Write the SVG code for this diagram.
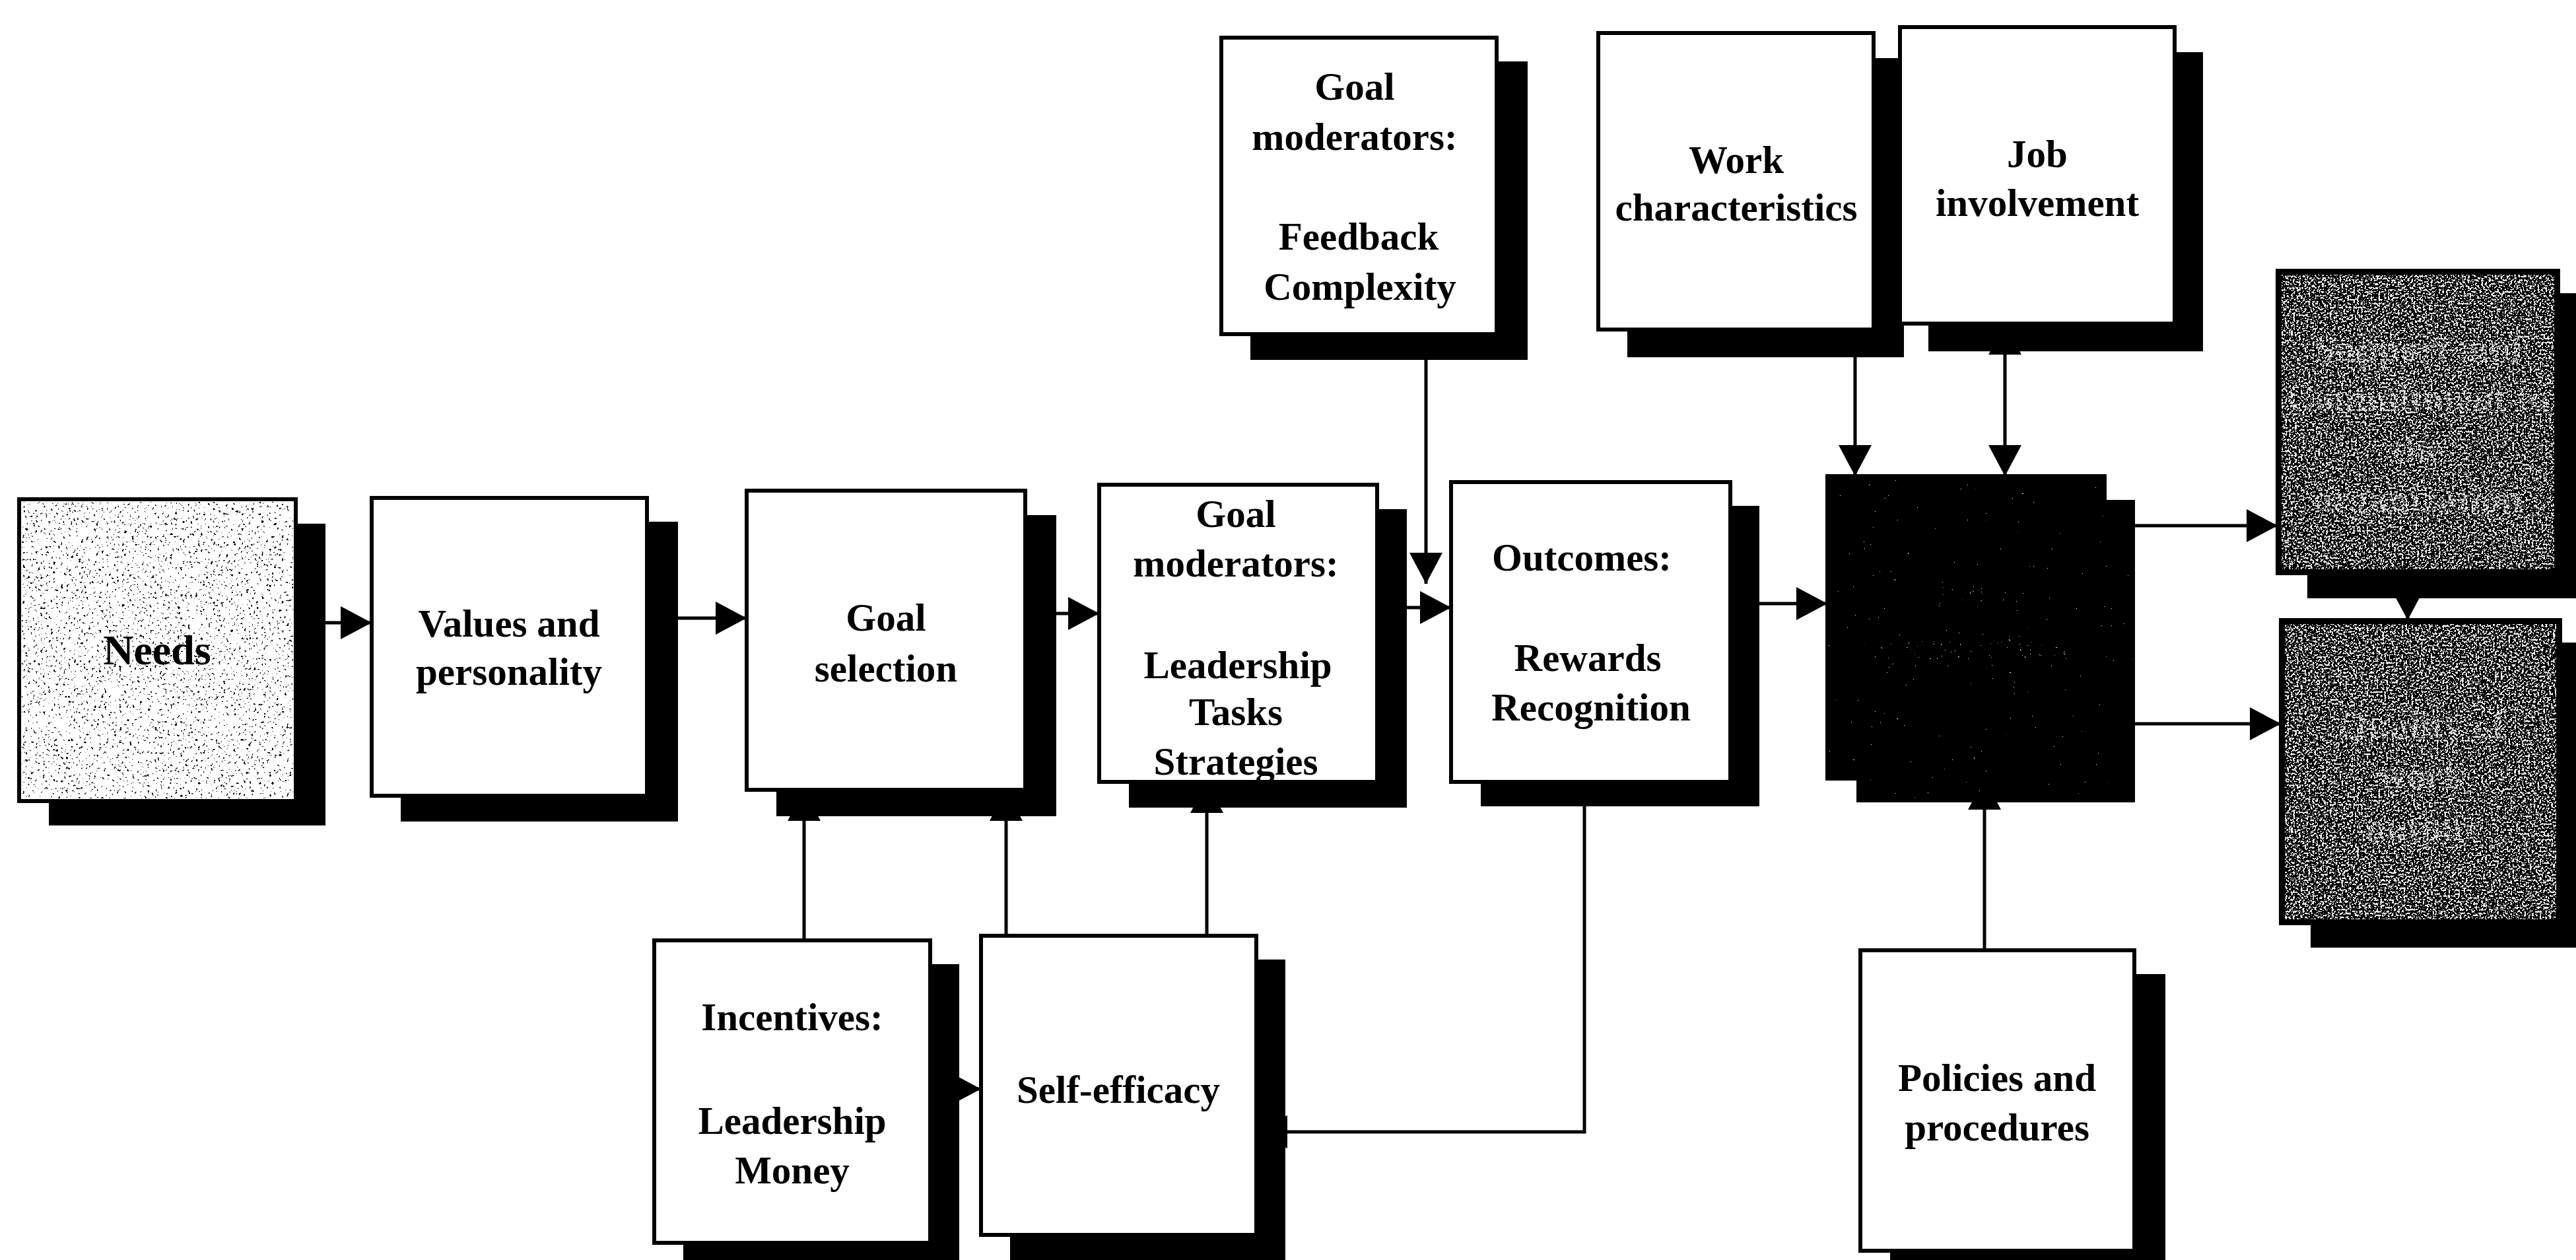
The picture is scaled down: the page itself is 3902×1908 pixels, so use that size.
<svg xmlns="http://www.w3.org/2000/svg" width="3902" height="1908" viewBox="0 0 3902 1908">
  <style>
    .box { fill: #fff; stroke: #000; stroke-width: 6; }
    .shadow { fill: #000; }
    .dark { fill: #000; stroke: #000; stroke-width: 6; }
    .lbl { font-family: 'Liberation Serif', 'Times New Roman', serif; font-size: 59px; font-weight: 700; text-anchor: middle; fill: #000; }
    .lbl-dark { font-family: 'Liberation Serif', 'Times New Roman', serif; font-size: 59px; font-weight: 700; text-anchor: middle; fill: #ddd; }
    .conn { stroke: #000; stroke-width: 5; fill: none; }
  </style>
  <defs>
    <marker id="ah" viewBox="0 0 47 50" refX="47" refY="25" markerWidth="47" markerHeight="50" markerUnits="userSpaceOnUse" orient="auto-start-reverse">
      <path d="M0,0 L47,25 L0,50 z" fill="#000"/>
    </marker>
    <!-- black grain on a light ground -->
    <filter id="grainBlack" x="0" y="0" width="1" height="1" color-interpolation-filters="sRGB">
      <feTurbulence type="fractalNoise" baseFrequency="0.26" numOctaves="2" seed="7"/>
      <feColorMatrix type="matrix" values="0 0 0 0 0  0 0 0 0 0  0 0 0 0 0  30 0 0 0 -20"/>
    </filter>
    <!-- dense white grain on a dark ground -->
    <filter id="grainWhite" x="0" y="0" width="1" height="1" color-interpolation-filters="sRGB">
      <feTurbulence type="fractalNoise" baseFrequency="0.34" numOctaves="2" seed="11"/>
      <feColorMatrix type="matrix" values="0 0 0 0 1  0 0 0 0 1  0 0 0 0 1  30 0 0 0 -16.2"/>
    </filter>
    <!-- very sparse white dots -->
    <filter id="grainSparse" x="0" y="0" width="1" height="1" color-interpolation-filters="sRGB">
      <feTurbulence type="fractalNoise" baseFrequency="0.3" numOctaves="2" seed="5"/>
      <feColorMatrix type="matrix" values="0 0 0 0 1  0 0 0 0 1  0 0 0 0 1  80 0 0 0 -67"/>
    </filter>
    <!-- breaks lettering up into broken specks -->
    <filter id="brokenText" x="-0.05" y="-0.2" width="1.1" height="1.4" color-interpolation-filters="sRGB">
      <feTurbulence type="fractalNoise" baseFrequency="0.3" numOctaves="2" seed="3" result="n"/>
      <feColorMatrix in="n" type="matrix" values="0 0 0 0 0  0 0 0 0 0  0 0 0 0 0  30 0 0 0 -15.8" result="m"/>
      <feComposite in="SourceGraphic" in2="m" operator="in"/>
    </filter>
    <filter id="fadedText" x="-0.05" y="-0.2" width="1.1" height="1.4" color-interpolation-filters="sRGB">
      <feTurbulence type="fractalNoise" baseFrequency="0.35" numOctaves="2" seed="9" result="n"/>
      <feColorMatrix in="n" type="matrix" values="0 0 0 0 0  0 0 0 0 0  0 0 0 0 0  60 0 0 0 -45" result="m"/>
      <feComposite in="SourceGraphic" in2="m" operator="in"/>
    </filter>
  </defs>

  <rect width="3902" height="1908" fill="#fff"/>

  <!-- connectors (drawn first so box shadows sit over hidden arrow ends) -->
  <g id="connectors">
    <path class="conn" d="M492,943 H563" marker-end="url(#ah)"/>
    <path class="conn" d="M1027,936 H1131" marker-end="url(#ah)"/>
    <path class="conn" d="M1600,929 H1665" marker-end="url(#ah)"/>
    <path class="conn" d="M2131,920 H2198" marker-end="url(#ah)"/>
    <path class="conn" d="M2160,545 V884" marker-end="url(#ah)"/>
    <path class="conn" d="M2665,914 H2768" marker-end="url(#ah)"/>
    <path class="conn" d="M2810,541 V721" marker-end="url(#ah)"/>
    <path class="conn" d="M3037,490 V721" marker-start="url(#ah)" marker-end="url(#ah)"/>
    <path class="conn" d="M3006,1439 V1179" marker-end="url(#ah)"/>
    <path class="conn" d="M3234,796 H3450" marker-end="url(#ah)"/>
    <path class="conn" d="M3234,1096 H3455" marker-end="url(#ah)"/>
    <path class="conn" d="M3647,880 V939" marker-end="url(#ah)"/>
    <path class="conn" d="M1218,1424 V1196" marker-end="url(#ah)"/>
    <path class="conn" d="M1524,1417 V1196" marker-end="url(#ah)"/>
    <path class="conn" d="M1828,1417 V1184" marker-end="url(#ah)"/>
    <path class="conn" d="M1409,1649 H1486" marker-end="url(#ah)"/>
    <path class="conn" d="M2400,1221 V1714 H1903" marker-end="url(#ah)"/>
  </g>

  <g id="needs">
    <rect class="shadow" x="74" y="793" width="419" height="457"/>
    <rect class="box" x="29" y="756" width="419" height="457"/>
    <rect x="33" y="760" width="411" height="449" filter="url(#grainBlack)"/>
    <text class="lbl" x="238" y="1006" style="font-size:64px">Needs</text>
  </g>

  <g id="values-personality">
    <rect class="shadow" x="607" y="790" width="420" height="454"/>
    <rect class="box" x="563" y="754" width="417" height="451"/>
    <text class="lbl" x="771" y="964">Values and</text>
    <text class="lbl" x="771" y="1037">personality</text>
  </g>

  <g id="goal-selection">
    <rect class="shadow" x="1176" y="780" width="424" height="456"/>
    <rect class="box" x="1131" y="743" width="422" height="453"/>
    <text class="lbl" x="1342" y="955">Goal</text>
    <text class="lbl" x="1342" y="1032">selection</text>
  </g>

  <g id="goal-moderators-leadership">
    <rect class="shadow" x="1710" y="771" width="421" height="452"/>
    <rect class="box" x="1665" y="734" width="421" height="450"/>
    <text class="lbl" x="1872" y="798">Goal</text>
    <text class="lbl" x="1872" y="873">moderators:</text>
    <text class="lbl" x="1875" y="1027">Leadership</text>
    <text class="lbl" x="1872" y="1098">Tasks</text>
    <text class="lbl" x="1872" y="1173">Strategies</text>
  </g>

  <g id="outcomes">
    <rect class="shadow" x="2243" y="766" width="422" height="455"/>
    <rect class="box" x="2198" y="730" width="423" height="454"/>
    <text class="lbl" x="2396" y="864">Outcomes:</text>
    <text class="lbl" x="2405" y="1016">Rewards</text>
    <text class="lbl" x="2410" y="1091">Recognition</text>
  </g>

  <g id="job-satisfaction">
    <rect class="shadow" x="2812" y="757" width="422" height="458"/>
    <rect class="dark" x="2768" y="721" width="420" height="458"/>
    <rect x="2768" y="721" width="466" height="494" filter="url(#grainSparse)"/>
    <g filter="url(#fadedText)">
      <text class="lbl-dark" x="2966" y="918">Job</text>
      <text class="lbl-dark" x="2990" y="998">satisfaction</text>
    </g>
  </g>

  <g id="goal-moderators-feedback">
    <rect class="shadow" x="1894" y="93" width="420" height="452"/>
    <rect class="box" x="1850" y="57" width="417" height="449"/>
    <text class="lbl" x="2052" y="151">Goal</text>
    <text class="lbl" x="2052" y="227">moderators:</text>
    <text class="lbl" x="2058" y="378">Feedback</text>
    <text class="lbl" x="2060" y="454">Complexity</text>
  </g>

  <g id="work-characteristics">
    <rect class="shadow" x="2465" y="88" width="419" height="453"/>
    <rect class="box" x="2421" y="50" width="417" height="449"/>
    <text class="lbl" x="2630" y="262">Work</text>
    <text class="lbl" x="2630" y="334">characteristics</text>
  </g>

  <g id="job-involvement">
    <rect class="shadow" x="2921" y="79" width="416" height="453"/>
    <rect class="box" x="2878" y="41" width="416" height="449"/>
    <text class="lbl" x="3086" y="253">Job</text>
    <text class="lbl" x="3086" y="327">involvement</text>
  </g>

  <g id="incentives">
    <rect class="shadow" x="1035" y="1460" width="418" height="458"/>
    <rect class="box" x="991" y="1424" width="418" height="458"/>
    <text class="lbl" x="1200" y="1560">Incentives:</text>
    <text class="lbl" x="1200" y="1717">Leadership</text>
    <text class="lbl" x="1200" y="1792">Money</text>
  </g>

  <g id="self-efficacy">
    <rect class="shadow" x="1530" y="1453" width="417" height="460"/>
    <rect class="box" x="1486" y="1417" width="417" height="453"/>
    <text class="lbl" x="1694" y="1670">Self-efficacy</text>
  </g>

  <g id="policies-procedures">
    <rect class="shadow" x="2863" y="1475" width="417" height="460"/>
    <rect class="box" x="2818" y="1439" width="415" height="455"/>
    <text class="lbl" x="3025" y="1652">Policies and</text>
    <text class="lbl" x="3025" y="1727">procedures</text>
  </g>

  <g id="support-commitment">
    <rect class="shadow" x="3495" y="444" width="410" height="462"/>
    <rect class="dark" x="3450" y="410" width="425" height="458"/>
    <rect x="3456" y="416" width="413" height="446" filter="url(#grainWhite)"/>
    <g filter="url(#brokenText)">
      <text class="lbl-dark" x="3662" y="548">Support and</text>
      <text class="lbl-dark" x="3662" y="622">Commitment to</text>
      <text class="lbl-dark" x="3662" y="700">the</text>
      <text class="lbl-dark" x="3662" y="775">organization</text>
    </g>
  </g>

  <g id="quality">
    <rect class="shadow" x="3500" y="973" width="405" height="462"/>
    <rect class="dark" x="3455" y="939" width="423" height="459"/>
    <rect x="3461" y="945" width="411" height="447" filter="url(#grainWhite)"/>
    <g filter="url(#brokenText)">
      <text class="lbl-dark" x="3668" y="1118">Quality of</text>
      <text class="lbl-dark" x="3668" y="1194">work</text>
      <text class="lbl-dark" x="3668" y="1272">output</text>
    </g>
  </g>
</svg>
